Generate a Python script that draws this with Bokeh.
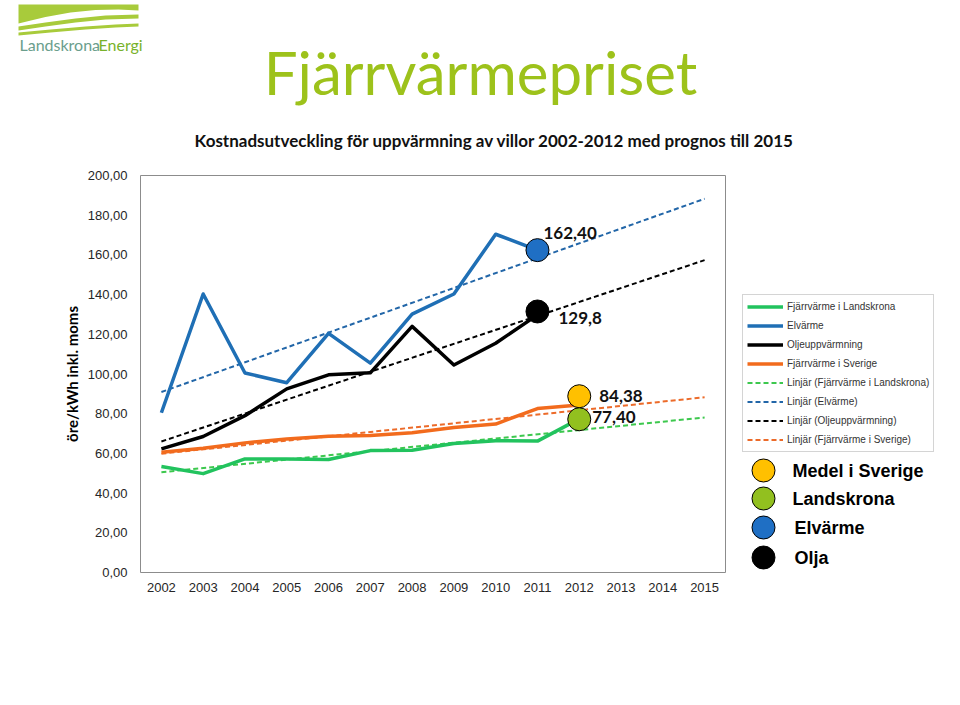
import numpy as np
from bokeh.plotting import figure
from bokeh.layouts import column, row
from bokeh.models import (FactorRange, Range1d, FixedTicker, CustomJSTickFormatter,
                          Legend, LegendItem, ColumnDataSource)
from bokeh.core.properties import value
from bokeh.embed import file_html
from bokeh.resources import INLINE

# ---------------- data ----------------
years = ["2002", "2003", "2004", "2005", "2006", "2007", "2008",
         "2009", "2010", "2011", "2012", "2013", "2014", "2015"]
y_ticks = [0, 20, 40, 60, 80, 100, 120, 140, 160, 180, 200]

fjv_landskrona = [53.4, 49.8, 57.2, 57.2, 56.9, 61.4, 61.6, 65.0, 66.4, 66.2, 77.40]   # 2002-2012
fjv_sverige = [60.6, 62.6, 65.3, 67.3, 68.7, 69.0, 70.4, 73.0, 74.8, 82.6, 84.38]      # 2002-2012
elvarme = [80.5, 140.3, 100.5, 95.6, 120.5, 105.5, 130.2, 140.3, 170.4, 162.40]        # 2002-2011
olja = [62.3, 68.5, 79.0, 92.5, 99.6, 100.6, 124.0, 104.5, 115.5, 129.8]               # 2002-2011

series_names = ["Fjärrvärme i Landskrona", "Elvärme", "Oljeuppvärmning", "Fjärrvärme i Sverige"]
trend_names = ["Linjär (Fjärrvärme i Landskrona)", "Linjär (Elvärme)",
               "Linjär (Oljeuppvärmning)", "Linjär (Fjärrvärme i Sverige)"]

marker_names = ["Medel i Sverige", "Landskrona", "Elvärme", "Olja"]
marker_years = ["2012", "2012", "2011", "2011"]
marker_pos = [88.8, 77.2, 162.4, 131.5]
marker_text = ["84,38", "77,40", "162,40", "129,8"]

title_text = "Fjärrvärmepriset"
subtitle_text = "Kostnadsutveckling för uppvärmning av villor 2002-2012 med prognos till 2015"
y_label = "öre/kWh inkl. moms"

# ---------------- styles ----------------
series_colors = ["#22C35E", "#1F6FB5", "#000000", "#F26B1D"]
trend_colors = ["#3DC84E", "#2266A8", "#000000", "#EC6B2A"]
marker_colors = ["#FFC000", "#92C01F", "#1F6FC4", "#000000"]
label_dx = [20, 13, 6, 21]
label_dy = [0, -2, -17, 7]
GREEN = "#9DC21B"

PAGE_W, HEAD_H, BODY_H = 960, 165, 535
MAIN_W = 740
FL, FT, FW, FH = 140, 175 - HEAD_H, 585, 397   # frame in main-figure coords
FRAME_TOP, FRAME_BOT = 175, 175 + 397           # page coords


def bare(fig):
    fig.outline_line_color = None
    fig.grid.visible = False
    return fig


# ---------------- header (logo + titles) ----------------
head = bare(figure(width=PAGE_W, height=HEAD_H, x_range=Range1d(0, PAGE_W), y_range=Range1d(HEAD_H, 0),
                   output_backend="svg", toolbar_location=None, min_border=0,
                   x_axis_location=None, y_axis_location=None))
logo_polys = [
    [(18, 4), (138, 4), (138, 10), (118, 9), (95, 9.5), (70, 12), (45, 16.5), (18, 23)],
    [(18, 26), (45, 22), (75, 18), (105, 15), (138, 14), (138, 18), (105, 19), (75, 22), (45, 26), (18, 30)],
    [(18, 32), (50, 29), (85, 26), (115, 24), (138, 23), (138, 26), (115, 27), (85, 29), (50, 32), (18, 35)],
]
head.patches([[a for a, b in pl] for pl in logo_polys], [[b for a, b in pl] for pl in logo_polys],
             fill_color="#A8CB3B", line_color=None)
head.text([19], [44], text=["Landskrona"], text_font=value("Lato"), text_font_size="16px",
          text_color="#6A9E8C", text_baseline="middle")
head.text([98], [44], text=["Energi"], text_font=value("Lato"), text_font_size="16px",
          text_color="#78B22B", text_baseline="middle")
head.text([480], [71], text=[title_text], text_font=value("Lato"), text_font_size="60px",
          text_color=GREEN, text_align="center", text_baseline="middle")
head.text([494], [140], text=[subtitle_text], text_font=value("Lato"), text_font_style="bold",
          text_font_size="17px", text_color="#111111", text_align="center", text_baseline="middle")

# ---------------- main chart ----------------
p = figure(width=MAIN_W, height=BODY_H, x_range=FactorRange(*years), y_range=Range1d(0, 200),
           output_backend="svg", toolbar_location=None,
           min_border_left=FL, min_border_top=FT,
           min_border_right=MAIN_W - FL - FW, min_border_bottom=BODY_H - FT - FH)
p.outline_line_color = "#8C8C8C"
p.outline_line_width = 1
p.xgrid.grid_line_color = None
p.ygrid.grid_line_color = None

for ax in (p.xaxis[0], p.yaxis[0]):
    ax.axis_line_color = None
    ax.major_tick_line_color = None
    ax.minor_tick_line_color = None
    ax.major_label_text_font = "Liberation Sans"
    ax.major_label_text_font_size = "13px"
    ax.major_label_text_color = "#262626"
p.xaxis.major_label_standoff = 4
p.yaxis.major_label_standoff = 7
p.yaxis.ticker = FixedTicker(ticks=y_ticks)
p.yaxis.formatter = CustomJSTickFormatter(code="return tick.toFixed(2).replace('.', ',');")
p.yaxis.axis_label = y_label
p.yaxis.axis_label_text_font = "Lato"
p.yaxis.axis_label_text_font_style = "bold"
p.yaxis.axis_label_text_font_size = "15px"
p.yaxis.axis_label_text_color = "#000000"
p.yaxis.axis_label_standoff = 4

all_series = [fjv_landskrona, elvarme, olja, fjv_sverige]

# trend lines (linear fit over the observed years, extended to 2015)
for vals, col in zip(all_series, trend_colors):
    idx = np.arange(len(vals))
    k, m = np.polyfit(idx, vals, 1)
    p.line([years[0], years[-1]], [m, m + k * (len(years) - 1)],
           line_color=col, line_width=2, line_dash="5 3")

for vals, col in zip(all_series, series_colors):
    p.line(years[:len(vals)], vals, line_color=col, line_width=3.5, line_join="round")

src = ColumnDataSource(dict(x=marker_years, y=marker_pos, c=marker_colors, t=marker_text,
                            dx=label_dx, dy=label_dy))
p.scatter("x", "y", source=src, size=23, fill_color="c", line_color="#000000", line_width=1)
p.text("x", "y", text="t", source=src, x_offset="dx", y_offset="dy",
       text_font=value("Lato"), text_font_style="bold", text_font_size="17px",
       text_baseline="middle", text_align="left", text_color="#111111")

# ---------------- side panel (legends), frame aligned with the chart frame ----------------
side = bare(figure(width=PAGE_W - MAIN_W, height=BODY_H, x_range=Range1d(MAIN_W, PAGE_W),
                   y_range=Range1d(FRAME_BOT, FRAME_TOP),
                   output_backend="svg", toolbar_location=None,
                   min_border_left=0, min_border_right=0,
                   min_border_top=FT, min_border_bottom=BODY_H - FT - FH,
                   x_axis_location=None, y_axis_location=None))

items = []
for n, col in zip(series_names, series_colors):
    r = side.line([0, 1], [0, 1], line_color=col, line_width=3.5)
    items.append(LegendItem(label=n, renderers=[r]))
for n, col in zip(trend_names, trend_colors):
    r = side.line([0, 1], [0, 1], line_color=col, line_width=2, line_dash="5 3")
    items.append(LegendItem(label=n, renderers=[r]))
leg = Legend(items=items, location=(2, FRAME_BOT - 452), glyph_width=36, glyph_height=15,
             label_height=15, spacing=4, padding=4, margin=0, label_standoff=4,
             label_text_font="Liberation Sans", label_text_font_size="10px",
             label_text_color="#333333", border_line_color="#AAAAAA",
             background_fill_alpha=1.0)
side.add_layout(leg, "center")

leg_y = [470, 498, 527, 557]
leg_tx = [792, 792, 794, 794]
side.scatter([763] * 4, leg_y, size=23, fill_color=marker_colors, line_color="#000000", line_width=1)
side.text(leg_tx, leg_y, text=marker_names, text_font=value("Liberation Sans"), text_font_style="bold",
          text_font_size="18px", text_color="#000000", text_baseline="middle")

layout = column(head, row(p, side, spacing=0), spacing=0)
open("out.html", "w").write(file_html(layout, INLINE))
